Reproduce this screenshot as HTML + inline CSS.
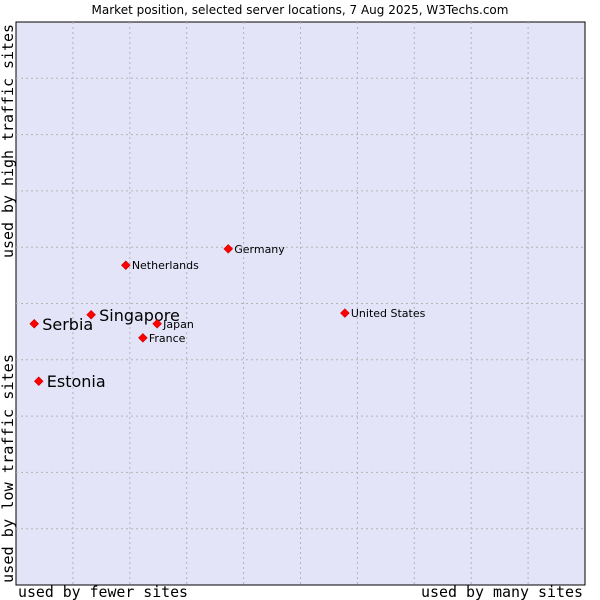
<!DOCTYPE html>
<html><head><meta charset="utf-8"><style>
body{margin:0;background:#fff;}
svg{display:block;font-family:"DejaVu Sans","Liberation Sans",sans-serif;}
</style></head><body>
<svg id="c" width="600" height="600">
<text x="300" y="14" text-anchor="middle" font-size="12" fill="#000">Market position, selected server locations, 7 Aug 2025, W3Techs.com</text>
<rect x="16" y="22" width="569" height="563" fill="#e3e4f8" stroke="#000" stroke-width="1"/>
<g id="grid"></g>
<text x="18" y="597" textLength="170" lengthAdjust="spacingAndGlyphs" font-family="DejaVu Sans Mono,Liberation Mono,monospace" font-size="15">used by fewer sites</text>
<text x="421" y="597" textLength="162" lengthAdjust="spacingAndGlyphs" font-family="DejaVu Sans Mono,Liberation Mono,monospace" font-size="15">used by many sites</text>
<text transform="translate(13,583) rotate(-90)" textLength="229" lengthAdjust="spacingAndGlyphs" font-family="DejaVu Sans Mono,Liberation Mono,monospace" font-size="15">used by low traffic sites</text>
<text transform="translate(13,258) rotate(-90)" textLength="234" lengthAdjust="spacingAndGlyphs" font-family="DejaVu Sans Mono,Liberation Mono,monospace" font-size="15">used by high traffic sites</text>
<g id="pts"></g>
</svg>
<script>
const names=["Serbia","Singapore","Estonia","Netherlands","Germany","United States","Japan","France"];
const xs=[3.2,13.2,4.0,19.3,37.3,57.8,24.8,22.3];
const ys=[46.4,48.0,36.2,56.8,59.7,48.3,46.4,43.9];
const big=[1,1,1,0,0,0,0,0];
const NS="http://www.w3.org/2000/svg";
const X=v=>16+v/100*569, Y=v=>585-v/100*563;
const g=document.getElementById('grid');
for(let i=1;i<10;i++){
 const a=document.createElementNS(NS,'line');
 
 
 a.setAttribute('x1',X(i*10));a.setAttribute('x2',X(i*10));a.setAttribute('y1',22);a.setAttribute('y2',585);
 a.setAttribute('stroke','#b4b4b4');a.setAttribute('stroke-dasharray','2,3');g.appendChild(a);
 const b=document.createElementNS(NS,'line');
 
 
 b.setAttribute('y1',Y(i*10));b.setAttribute('y2',Y(i*10));b.setAttribute('x1',16);b.setAttribute('x2',585);
 b.setAttribute('stroke','#b4b4b4');b.setAttribute('stroke-dasharray','2,3');g.appendChild(b);
}
const p=document.getElementById('pts');
names.forEach((n,i)=>{
 const x=X(xs[i]),y=Y(ys[i]);
 const m=document.createElementNS(NS,'path');
 
 
 m.setAttribute('d',`M${x-4.5},${y}L${x},${y-4.5}L${x+4.5},${y}L${x},${y+4.5}Z`);
 m.setAttribute('fill','#f00');m.setAttribute('stroke','#a00');m.setAttribute('stroke-width','0.5');
 p.appendChild(m);
 const t=document.createElementNS(NS,'text');
 
 
 t.setAttribute('x',x+(big[i]?8:6));t.setAttribute('y',y+(big[i]?6:4));
 t.setAttribute('font-size',big[i]?16:11);t.textContent=n;p.appendChild(t);
});
</script>
</body></html>
